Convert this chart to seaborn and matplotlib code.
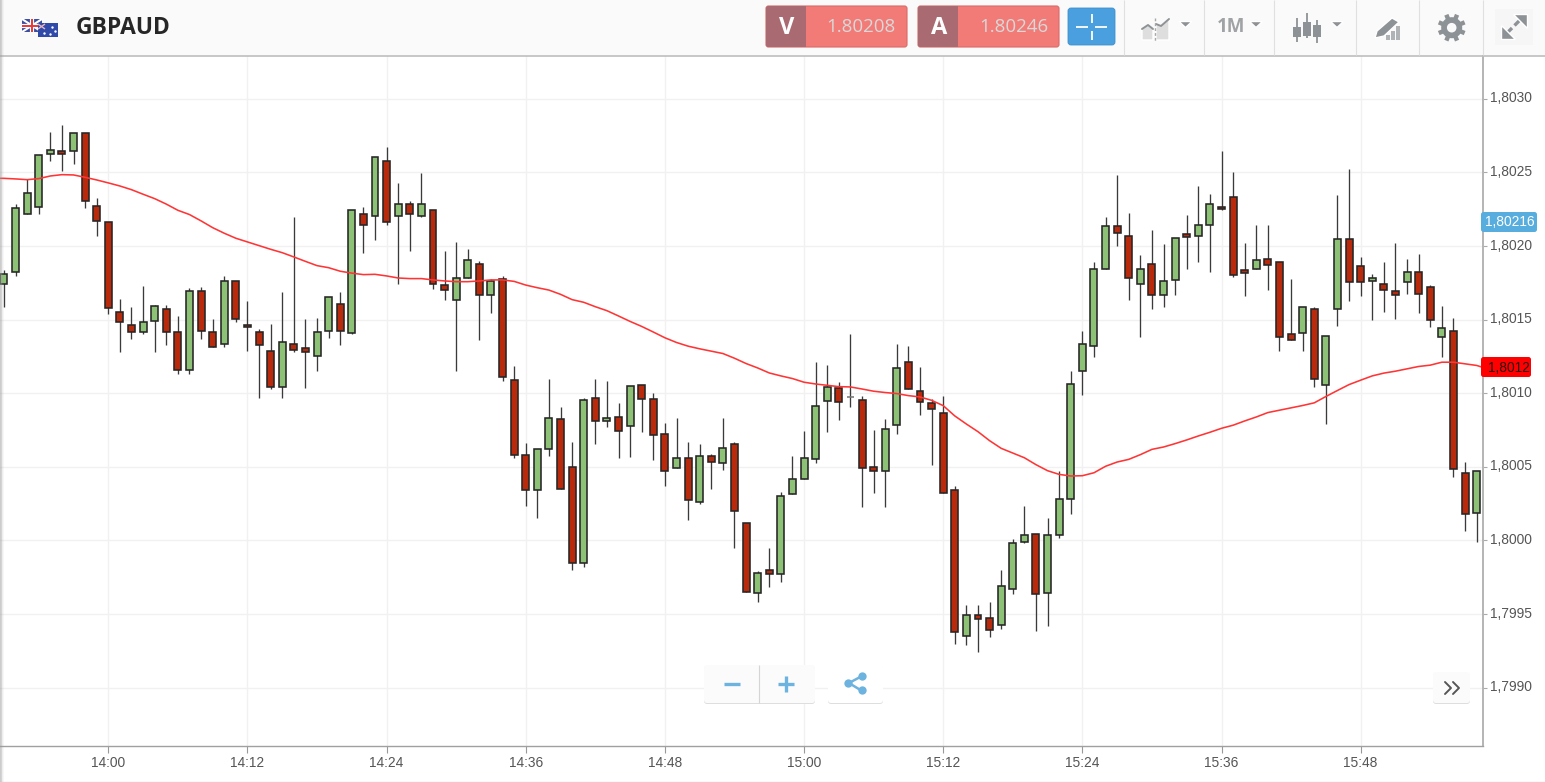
import numpy as np
import pandas as pd
import matplotlib
matplotlib.use("Agg")
import matplotlib.pyplot as plt
from matplotlib.patches import Rectangle, FancyBboxPatch, Polygon, Circle
from matplotlib.transforms import ScaledTranslation
import seaborn as sns

# Prices expressed as pips above 1.8000
BASE_PRICE = 1.8
PIP = 0.0001

minutes_from_1400 = list(range(-9, 119))

open_pips = [
    17.43, 18.22, 22.16, 22.66, 26.28, 26.48, 26.46, 27.66, 22.75, 21.61,
    15.55, 14.66, 14.16, 14.91, 15.7, 14.19, 11.58, 16.93, 14.16, 13.37,
    17.65, 14.66, 14.16, 12.87, 10.43, 13.37, 13.06, 12.56, 14.25, 16.04,
    14.09, 22.18, 22.02, 25.75, 22.01, 22.84, 22.07, 22.44, 17.33, 16.33,
    17.81, 18.78, 16.67, 17.74, 10.87, 5.83, 3.4, 6.22, 8.26, 5.01,
    -1.54, 9.71, 8.1, 8.42, 7.76, 10.53, 9.64, 7.21, 4.9, 5.58,
    2.59, 5.76, 5.26, 6.53, 1.16, -3.56, -1.99, -2.27, 3.17, 4.15,
    5.53, 9.5, 10.39, 9.73, 9.57, 4.97, 4.69, 7.85, 12.15, 10.14,
    9.34, 8.68, 3.42, -6.46, -5.08, -5.24, -5.74, -3.29, -0.07, 0.41,
    -3.56, 0.34, 2.83, 11.5, 13.2, 18.47, 21.35, 20.69, 17.42, 18.76,
    16.67, 17.67, 20.8, 20.71, 21.44, 22.66, 23.3, 18.38, 18.47, 19.1,
    18.94, 14.02, 14.09, 15.7, 10.59, 15.7, 20.49, 18.63, 17.63, 17.42,
    16.92, 17.56, 18.22, 17.24, 13.84, 14.25, 4.6, 1.86,
]
close_pips = [
    18.13, 22.59, 23.63, 26.21, 26.55, 26.26, 27.68, 23.06, 21.71, 15.77,
    14.82, 14.16, 14.84, 15.95, 14.16, 11.58, 16.93, 14.25, 13.12, 17.65,
    15.07, 14.48, 13.28, 10.43, 13.46, 12.94, 12.8, 14.19, 16.52, 14.25,
    22.43, 21.43, 26.05, 21.62, 22.84, 22.16, 22.84, 17.4, 16.99, 17.81,
    19.03, 16.67, 17.65, 11.09, 5.81, 3.4, 6.24, 8.33, 3.47, -1.54,
    9.57, 8.1, 8.33, 7.44, 10.46, 9.64, 7.19, 4.7, 5.58, 2.74,
    5.76, 5.35, 6.31, 2.02, -3.47, -2.18, -2.27, 3.02, 4.15, 5.6,
    9.16, 10.45, 9.41, 9.73, 4.94, 4.69, 7.55, 11.75, 10.29, 9.41,
    8.91, 3.24, -6.21, -5.08, -5.33, -6.08, -3.06, -0.14, 0.34, -3.63,
    0.34, 2.83, 10.61, 13.36, 18.44, 21.35, 20.87, 17.83, 18.44, 16.67,
    17.65, 20.55, 20.62, 21.44, 22.84, 22.5, 18.04, 18.19, 19.03, 18.72,
    13.84, 13.61, 15.86, 11.0, 13.86, 20.49, 17.56, 17.56, 17.83, 16.99,
    16.67, 18.22, 16.77, 14.97, 14.41, 4.85, 1.79, 4.7,
]
high_pips = [
    18.35, 22.88, 24.58, 26.21, 27.73, 28.23, 27.68, 27.66, 23.29, 21.61,
    16.43, 15.86, 17.31, 16.02, 16.02, 15.23, 17.18, 17.24, 15.05, 17.97,
    17.65, 16.27, 14.39, 14.73, 16.9, 21.98, 15.05, 15.14, 16.52, 16.9,
    22.43, 22.66, 26.05, 26.7, 24.25, 23.07, 24.93, 22.44, 19.65, 20.3,
    19.83, 18.99, 17.79, 17.94, 11.86, 6.62, 6.24, 10.98, 9.05, 6.67,
    9.69, 10.98, 10.84, 9.37, 10.46, 10.53, 10.03, 7.99, 8.33, 6.69,
    6.56, 5.88, 8.33, 6.67, 1.16, -2.04, -0.5, 3.31, 5.74, 7.44,
    12.13, 11.9, 10.77, 14.01, 9.8, 7.53, 8.25, 13.38, 13.2, 11.81,
    9.64, 9.8, 3.72, -4.38, -4.38, -4.2, -2.02, 0.09, 2.36, 0.41,
    1.54, 4.69, 11.5, 14.26, 18.92, 21.98, 24.82, 22.23, 19.4, 21.12,
    20.15, 20.55, 22.14, 24.09, 23.53, 26.45, 25.0, 20.21, 21.44, 21.44,
    18.94, 17.79, 15.86, 15.86, 13.86, 23.46, 25.23, 19.26, 18.13, 18.94,
    20.21, 19.1, 19.49, 17.38, 15.93, 15.11, 5.31, 4.7,
]
low_pips = [
    15.86, 17.97, 22.16, 22.16, 25.78, 25.08, 25.55, 22.59, 20.71, 15.4,
    12.8, 13.71, 14.0, 12.8, 13.28, 11.33, 11.33, 13.69, 13.12, 13.12,
    14.82, 12.87, 9.66, 10.28, 9.66, 12.8, 10.38, 11.51, 13.76, 13.28,
    14.0, 19.51, 20.39, 21.46, 17.4, 19.67, 22.0, 17.08, 16.36, 11.5,
    17.81, 13.59, 15.45, 10.84, 5.58, 2.31, 1.54, 5.74, 3.47, -2.02,
    -1.77, 6.56, 7.74, 5.58, 5.65, 7.35, 5.49, 3.72, 4.9, 1.38,
    2.47, 3.47, 4.79, -0.54, -3.47, -4.2, -3.13, -2.81, 3.17, 4.15,
    5.26, 7.39, 8.21, 9.07, 2.29, 3.24, 2.29, 7.21, 10.29, 8.5,
    5.1, 3.24, -7.03, -7.1, -7.6, -6.53, -6.03, -3.63, -0.14, -6.12,
    -5.8, 0.18, 1.79, 9.91, 12.45, 18.47, 19.99, 16.36, 13.84, 15.72,
    15.88, 16.67, 18.47, 18.94, 18.22, 22.44, 17.9, 16.61, 18.47, 17.01,
    12.86, 13.61, 12.86, 10.44, 7.92, 14.56, 16.27, 16.58, 14.97, 15.54,
    15.06, 16.77, 15.47, 14.5, 12.44, 4.29, 0.66, -0.07,
]
ma_minutes = [-9.4] + minutes_from_1400 + [118.5]
ma_pips = [
    24.6,
    24.6, 24.56, 24.51, 24.58, 24.76, 24.85, 24.83, 24.67, 24.49, 24.29,
    24.08, 23.83, 23.52, 23.22, 22.85, 22.43, 22.14, 21.71, 21.25, 20.87,
    20.53, 20.28, 20.03, 19.78, 19.55, 19.26, 18.96, 18.67, 18.53, 18.29,
    18.16, 18.06, 18.08, 17.97, 17.83, 17.79, 17.79, 17.7, 17.63, 17.58,
    17.58, 17.63, 17.7, 17.7, 17.6, 17.35, 17.17, 17.01, 16.72, 16.36,
    16.18, 15.88, 15.61, 15.25, 14.88, 14.54, 14.16, 13.77, 13.45, 13.2,
    13.02, 12.86, 12.7, 12.38, 12.02, 11.72, 11.38, 11.18, 11.0, 10.75,
    10.63, 10.54, 10.45, 10.43, 10.29, 10.14, 10.05, 9.98, 9.84, 9.75,
    9.52, 9.16, 8.46, 7.91, 7.39, 6.78, 6.26, 5.94, 5.62, 5.15,
    4.74, 4.49, 4.38, 4.4, 4.6, 5.04, 5.33, 5.51, 5.83, 6.19,
    6.35, 6.58, 6.83, 7.1, 7.35, 7.62, 7.83, 8.12, 8.39, 8.69,
    8.85, 9.01, 9.17, 9.35, 9.78, 10.19, 10.59, 10.89, 11.18, 11.37,
    11.5, 11.66, 11.82, 11.91, 12.11, 12.11, 12.0, 11.89,
    11.77,
]

x_tick_minutes = [0, 12, 24, 36, 48, 60, 72, 84, 96, 108]
x_tick_labels = ["14:00", "14:12", "14:24", "14:36", "14:48",
                 "15:00", "15:12", "15:24", "15:36", "15:48"]
y_tick_prices = [1.7990, 1.7995, 1.8000, 1.8005, 1.8010, 1.8015, 1.8020, 1.8025, 1.8030]
y_tick_labels = ["1,7990", "1,7995", "1,8000", "1,8005", "1,8010",
                 "1,8015", "1,8020", "1,8025", "1,8030"]
pair_name = "GBPAUD"
bid_price = "1.80208"
ask_price = "1.80246"
current_price = "1,80216"
ma_price = "1,8012"
timeframe = "1M"

UP = "#8cc176"
DOWN = "#b82a0b"
EDGE = "#262626"
WICK = "#3a3a3a"
MA = "#ff3535"
W, H = 1545, 782

sns.set_theme(style="white")
plt.rcParams["font.family"] = ["Liberation Sans", "DejaVu Sans"]

df = pd.DataFrame({
    "minute": minutes_from_1400,
    "open": BASE_PRICE + np.array(open_pips) * PIP,
    "close": BASE_PRICE + np.array(close_pips) * PIP,
    "high": BASE_PRICE + np.array(high_pips) * PIP,
    "low": BASE_PRICE + np.array(low_pips) * PIP,
})
ma_df = pd.DataFrame({"minute": ma_minutes,
                      "ma": BASE_PRICE + np.array(ma_pips) * PIP})

fig = plt.figure(figsize=(W / 100, H / 100), dpi=100, facecolor="white")
# plot area: x 0..1483 px, y 56..746 px
ax = fig.add_axes([0, (H - 746) / H, 1483 / W, (746 - 56) / H])
ax.set_facecolor("white")

ax.vlines(df["minute"], df["low"], df["high"], color=WICK, lw=0.95, zorder=3)
is_up = df["close"] > df["open"]
is_flat = df["close"] == df["open"]
colors = np.where(is_flat, "#777777", np.where(is_up, UP, DOWN))
edge_cols = np.where(is_flat, "#777777", EDGE)
bottoms = df[["open", "close"]].min(axis=1)
heights = (df["close"] - df["open"]).abs()
ax.bar(df["minute"], heights, bottom=bottoms, width=0.6, color=colors,
       edgecolor=edge_cols, linewidth=1.15, zorder=4)
sns.lineplot(data=ma_df, x="minute", y="ma", color=MA, lw=1.15, ax=ax,
             estimator=None, sort=False, zorder=5)

ax.set_xlim(-9.34, 118.55)
ax.set_ylim(BASE_PRICE - 13.96 * PIP, BASE_PRICE + 32.91 * PIP)
ax.set_xticks(x_tick_minutes, x_tick_labels)
ax.set_yticks(y_tick_prices, y_tick_labels)
ax.yaxis.tick_right()
ax.set_xlabel("")
ax.set_ylabel("")
ax.grid(True, color="#f1f1f1", lw=1.0, zorder=0)
ax.set_axisbelow(True)
ax.tick_params(axis="y", right=True, length=3, width=0.8, color="#aaaaaa",
               labelsize=9.9, labelcolor="#555555", pad=3)
ax.tick_params(axis="x", bottom=True, length=5, width=0.8, color="#999999",
               labelsize=9.9, labelcolor="#555555", pad=2)
shift = ScaledTranslation(-1 / 100, 2 / 100, fig.dpi_scale_trans)
for lab in ax.get_yticklabels():
    lab.set_transform(lab.get_transform() + shift)
for s in ["top", "left"]:
    ax.spines[s].set_visible(False)
ax.spines["right"].set_color("#b4b4b4")
ax.spines["right"].set_linewidth(1.4)
ax.spines["bottom"].set_color("#a0a0a0")
ax.spines["bottom"].set_linewidth(1.0)

# interface overlay in pixel coordinates
ov = fig.add_axes([0, 0, 1, 1], zorder=10)
ov.axis("off")
ov.patch.set_alpha(0)


def rect(x0, y0, x1, y1, fc, ec="none", lw=0, z=2, alpha=1):
    ov.add_patch(Rectangle((x0, y0), x1 - x0, y1 - y0, fc=fc, ec=ec, lw=lw, zorder=z, alpha=alpha))


def rbox(x0, y0, x1, y1, fc, ec="none", lw=0, r=3, z=2):
    ov.add_patch(FancyBboxPatch((x0 + r, y0 + r), x1 - x0 - 2 * r, y1 - y0 - 2 * r,
                                boxstyle=f"round,pad={r},rounding_size={r}",
                                fc=fc, ec=ec, lw=lw, zorder=z))


def line(xs, ys, c, lw=1.0, z=3):
    ov.plot(xs, ys, color=c, lw=lw, zorder=z, solid_capstyle="butt")


# left shade over everything
shade = np.zeros((1, 6, 4))
shade[0, :, :3] = 0.6
shade[0, :, 3] = [0.5, 0.42, 0.3, 0.18, 0.08, 0.0]
ov.imshow(shade, extent=(0, 5, H, 0), aspect="auto", zorder=20, interpolation="nearest")
ov.set_xlim(0, W)
ov.set_ylim(H, 0)

# header
rect(0, 0, W, 55, "#fafafa")
line([0, W], [55.5, 55.5], "#bdbdbd", 1.2)
line([0, W], [781.5, 781.5], "#e2e2e2", 1.0)
for xs in [1124, 1204, 1274, 1356, 1419, 1483]:
    line([xs, xs], [0, 55], "#e0e0e0", 0.8)

# flags
rect(22, 19, 42, 32, "#3b4fa0")
line([22, 42], [19, 32], "white", 1.5)
line([22, 42], [32, 19], "white", 1.5)
line([32, 32], [19, 32], "white", 3)
line([22, 42], [25.5, 25.5], "white", 3)
line([32, 32], [19, 32], "#e8383a", 1.4)
line([22, 42], [25.5, 25.5], "#e8383a", 1.4)
rect(38, 23, 58, 37, "#2f4aa8", z=4)
line([38, 45], [24, 29], "#e9b6c0", 1, z=5)
line([38, 45], [29, 24], "#e9b6c0", 1, z=5)
ov.scatter([44, 52, 55, 50], [33, 27, 31, 34], s=3, c="white", lw=0, zorder=5)

ov.text(76, 27.5, pair_name, fontfamily="Open Sans", fontweight="bold", fontsize=16.4,
        color="#262626", ha="left", va="center", zorder=5)

# bid / ask buttons
for x0, letter, price in [(766, "V", bid_price), (918, "A", ask_price)]:
    rbox(x0, 6, x0 + 141, 47, "#f27b77", ec="#d96a68", lw=0.8, r=2.5)
    rbox(x0, 6, x0 + 40, 47, "#a96a72", r=2.5, z=3)
    rect(x0 + 30, 6, x0 + 40, 47, "#a96a72", z=3)
    ov.text(x0 + 21, 27.5, letter, fontfamily="Open Sans", fontweight="bold", fontsize=17,
            color="white", ha="center", va="center", zorder=5)
    ov.text(x0 + 130, 27, price, fontfamily="Open Sans", fontsize=13.5,
            color="#d8d8d8", ha="right", va="center", zorder=5)

# crosshair button
rbox(1068, 8, 1115, 45, "#4a9fde", ec="#3e8fca", lw=0.6, r=3)
line([1076, 1088], [27, 27], "white", 1.3, z=4)
line([1095, 1107], [27, 27], "white", 1.3, z=4)
line([1091.5, 1091.5], [14, 23], "white", 1.3, z=4)
line([1091.5, 1091.5], [31, 40], "white", 1.3, z=4)

# toolbar icons
GI = "#8d9296"
ov.add_patch(Polygon([(1142, 40), (1142, 29), (1148, 25), (1153, 29), (1153, 40)], fc="#dedede", zorder=3))
ov.add_patch(Polygon([(1156, 40), (1156, 24), (1161, 26), (1169, 19), (1169, 40)], fc="#dedede", zorder=3))
ov.plot([1142, 1148, 1153], [29, 25, 29], color=GI, lw=1.4, zorder=4)
ov.plot([1156, 1161, 1169], [24, 26, 19], color=GI, lw=1.4, zorder=4)
ov.plot([1154.5, 1154.5], [18, 41], color="#a8a8a8", lw=1.0, ls=(0, (2, 1.5)), zorder=4)
for tx in [1185.5, 1256, 1337]:
    ov.add_patch(Polygon([(tx - 6.5, 21.5), (tx + 6.5, 21.5), (tx, 27.5)], fc=GI, zorder=3))
ov.text(1231.5, 27.5, timeframe, fontfamily="Open Sans", fontweight="bold", fontsize=13.5,
        color="#a0a3a6", ha="center", va="center", zorder=4)
for cx, yt, yb, wt, wb in [(1297, 27, 37, 18, 42), (1307, 22, 36, 13, 38), (1317, 25, 37, 20, 43)]:
    line([cx, cx], [wt, wb], GI, 1.3)
    rect(cx - 3.7, yt, cx + 3.7, yb, GI, z=4)
# pencil and bars
ov.add_patch(Polygon([(1375, 38), (1377, 31), (1392, 18), (1399, 22), (1384, 36)], fc=GI, zorder=3))
for bx, by in [(1386, 35), (1391, 31), (1396, 26)]:
    rect(bx, by, bx + 4, 40, "#b0b3b6")
# gear
ov.add_patch(Circle((1451.7, 27.7), 10.5, fc=GI, ec="none", zorder=3))
ov.add_patch(Circle((1451.7, 27.7), 4.8, fc="#fafafa", ec="none", zorder=5))
for a in np.arange(0, 360, 45) + 22.5:
    ca, sa = np.cos(np.radians(a)), np.sin(np.radians(a))
    line([1451.7 + 9 * ca, 1451.7 + 14 * ca], [27.7 + 9 * sa, 27.7 + 14 * sa], GI, 3.2)
# expand
rect(1495, 9, 1533, 45, "#f6f6f6")
line([1507, 1512], [33, 28], GI, 2.4, z=4)
line([1514.5, 1520], [25.5, 20], GI, 2.4, z=4)
ov.add_patch(Polygon([(1513, 14), (1527, 14), (1527, 28)], fc=GI, zorder=4))
ov.add_patch(Polygon([(1501, 25), (1501, 38.5), (1515, 38.5)], fc=GI, zorder=4))

# price flags
rbox(1481, 212, 1537, 232, "#57aede", r=2.5, z=3)
ov.text(1510, 222.5, current_price, color="white", fontsize=9.9, ha="center", va="center", zorder=5)
rbox(1481, 357, 1531, 377, "#ff0000", r=2.5, z=3)
ov.text(1508.5, 367.5, ma_price, color="#2a1010", fontsize=9.9, ha="center", va="center", zorder=5)

# zoom / share buttons
for x0, y0, x1, y1 in [(704, 665, 815, 703), (828, 665, 883, 703), (1433, 672, 1470, 703)]:
    rbox(x0, y0 + 1, x1, y1 + 1, "#dedede", r=3, z=2)
    rbox(x0, y0, x1, y1, "#fbfbfb" if x0 != 828 else "white", r=3, z=3)
line([758.5, 758.5], [665, 703], "#d5d5d5", 0.8, z=4)
BL = "#6db3df"
line([724, 740], [683.5, 683.5], BL, 2.4, z=5)
line([778, 794], [683.5, 683.5], BL, 2.4, z=5)
line([786, 786], [675.5, 691.5], BL, 2.4, z=5)
line([849, 862], [683, 676], BL, 1.8, z=5)
line([849, 862], [683, 691], BL, 1.8, z=5)
ov.scatter([848, 862, 862], [683, 676, 690], s=36, c=BL, lw=0, zorder=6)
for dx in [0, 8]:
    ov.plot([1445 + dx, 1451 + dx, 1445 + dx], [682, 688, 694], color="#555555", lw=1.4, zorder=5)

fig.savefig("out.png", dpi=100, facecolor="white")
